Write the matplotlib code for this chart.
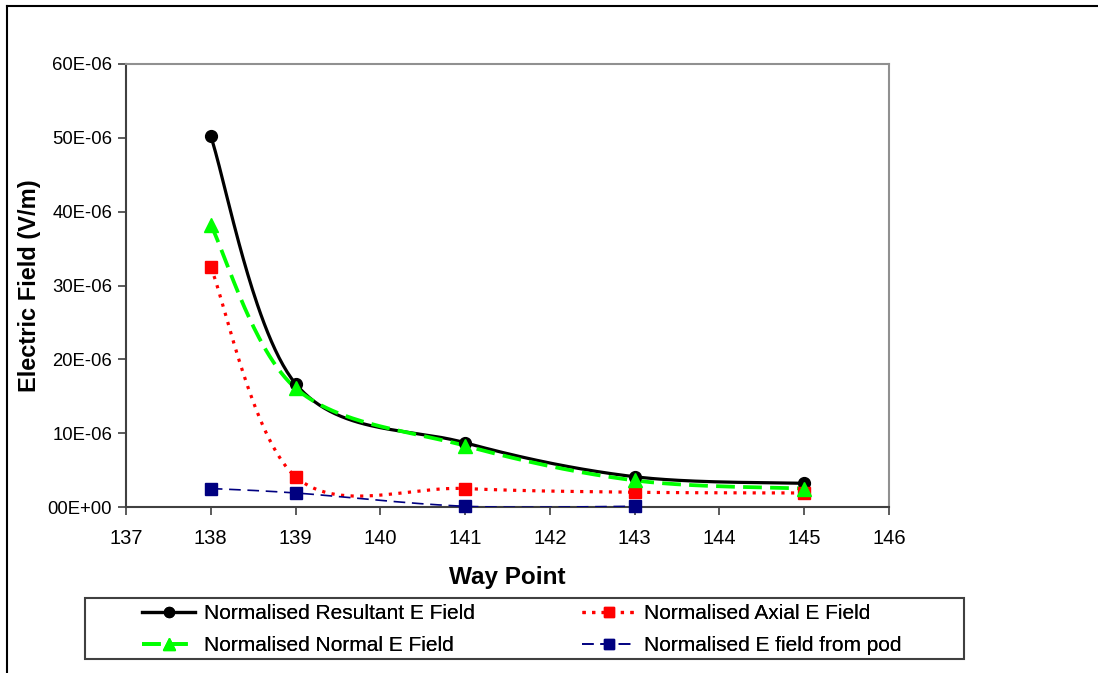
import numpy as np
import matplotlib
matplotlib.use("Agg")
import matplotlib.pyplot as plt
from matplotlib.lines import Line2D
from matplotlib.patches import Rectangle

plt.rcParams['font.family'] = ['Liberation Sans', 'DejaVu Sans']

# ---- data (values in 1e-6 V/m) ----
way_points = [138, 139, 141, 143, 145]
resultant = [50.2, 16.7, 8.7, 4.1, 3.2]
axial = [32.5, 4.1, 2.5, 2.0, 1.9]
normal = [38.2, 16.1, 8.3, 3.6, 2.5]
pod_points = [138, 139, 141, 143]
pod = [2.5, 1.9, 0.1, 0.1]

x_ticks = [137, 138, 139, 140, 141, 142, 143, 144, 145, 146]
y_ticks = [0, 10, 20, 30, 40, 50, 60]
y_tick_labels = ["00E+00", "10E-06", "20E-06", "30E-06", "40E-06", "50E-06", "60E-06"]

labels = ["Normalised Resultant E Field", "Normalised Axial E Field",
          "Normalised Normal E Field", "Normalised E field from pod"]

W, H = 1098, 673


def smooth(xs, ys, n=60):
    xs = np.asarray(xs, float)
    ys = np.asarray(ys, float)
    px, py = [], []
    m = len(xs)
    for i in range(m - 1):
        i0 = max(i - 1, 0)
        i3 = min(i + 2, m - 1)
        p0 = np.array([xs[i0], ys[i0]])
        p1 = np.array([xs[i], ys[i]])
        p2 = np.array([xs[i + 1], ys[i + 1]])
        p3 = np.array([xs[i3], ys[i3]])
        b1 = p1 + (p2 - p0) / 6.0
        b2 = p2 - (p3 - p1) / 6.0
        t = np.linspace(0, 1, n)[:, None]
        pts = ((1 - t) ** 3) * p1 + 3 * ((1 - t) ** 2) * t * b1 + 3 * (1 - t) * t ** 2 * b2 + t ** 3 * p2
        if i > 0:
            pts = pts[1:]
        px.extend(pts[:, 0])
        py.extend(pts[:, 1])
    return np.array(px), np.array(py)


fig = plt.figure(figsize=(W / 100, H / 100), dpi=100)
ax = fig.add_axes([126 / W, 1 - 507 / H, (889 - 126) / W, (507 - 64) / H])

series = [
    (way_points, resultant, dict(color='black', lw=2.3, ls='-'), dict(marker='o', ms=8.5, color='black')),
    (way_points, axial, dict(color='#FF0000', lw=2.3, ls=(0, (1.0, 2.0))), dict(marker='s', ms=8.5, color='#FF0000')),
    (way_points, normal, dict(color='#00FF00', lw=2.7, ls=(0, (5, 2.2))), dict(marker='^', ms=9.5, color='#00FF00')),
    (pod_points, pod, dict(color='#000080', lw=1.2, ls=(0, (7, 4))), dict(marker='s', ms=8.5, color='#000080')),
]

handles = []
for (xs, ys, lst, mst), lab in zip(series, labels):
    sx, sy = smooth(xs, ys)
    ax.plot(sx, sy, zorder=3, **lst)
    ax.plot(xs, ys, ls='none', marker=mst['marker'], ms=mst['ms'], color=mst['color'],
            markeredgecolor=mst['color'], zorder=4, clip_on=False)
    handles.append(Line2D([], [], color=lst['color'], lw=lst['lw'], ls=lst['ls'],
                          marker=mst['marker'], ms=mst['ms'] * 0.85, markeredgecolor=mst['color']))

ax.set_xlim(137, 146)
ax.set_ylim(0, 60)
ax.set_xticks(x_ticks)
ax.set_xticklabels([str(v) for v in x_ticks], fontsize=14.5)
ax.set_yticks(y_ticks)
ax.set_yticklabels(y_tick_labels, fontsize=13.3)
ax.tick_params(axis='both', direction='out', length=6, width=1.2, color='#404040', pad=4)
ax.tick_params(axis='x', pad=10)

for s in ['left', 'bottom']:
    ax.spines[s].set_color('#404040')
    ax.spines[s].set_linewidth(1.5)
for s in ['top', 'right']:
    ax.spines[s].set_color('#909090')
    ax.spines[s].set_linewidth(1.5)

ax.set_xlabel("Way Point", fontsize=17.5, fontweight='bold')
ax.xaxis.set_label_coords(0.5, -(566 - 507) / (507 - 64))
ax.set_ylabel("Electric Field (V/m)", fontsize=17, fontweight='bold')
ax.yaxis.set_label_coords(-(126 - 41) / (889 - 126), 0.5)

# legend: framed box with two columns
fig.add_artist(Rectangle((85 / W, 1 - 659 / H), (964 - 85) / W, (659 - 598) / H,
                         transform=fig.transFigure, fill=False, edgecolor='#404040', lw=1.5))
col_specs = [([0, 2], 142), ([1, 3], 582)]
for idx, xpix in col_specs:
    lg = fig.legend([handles[i] for i in idx], [labels[i] for i in idx],
                    loc='center left', bbox_to_anchor=(xpix / W, 1 - 629.5 / H),
                    fontsize=15, frameon=False, handlelength=2.55, handletextpad=0.42,
                    borderpad=0, labelspacing=0.62, borderaxespad=0)
    fig.add_artist(lg)

# outer chart border
fig.add_artist(Line2D([7 / W, 7 / W], [0, 1 - 6 / H], transform=fig.transFigure, color='black', lw=1.5))
fig.add_artist(Line2D([7 / W, 1], [1 - 6 / H, 1 - 6 / H], transform=fig.transFigure, color='black', lw=1.5))

fig.savefig("out.png", dpi=100)
